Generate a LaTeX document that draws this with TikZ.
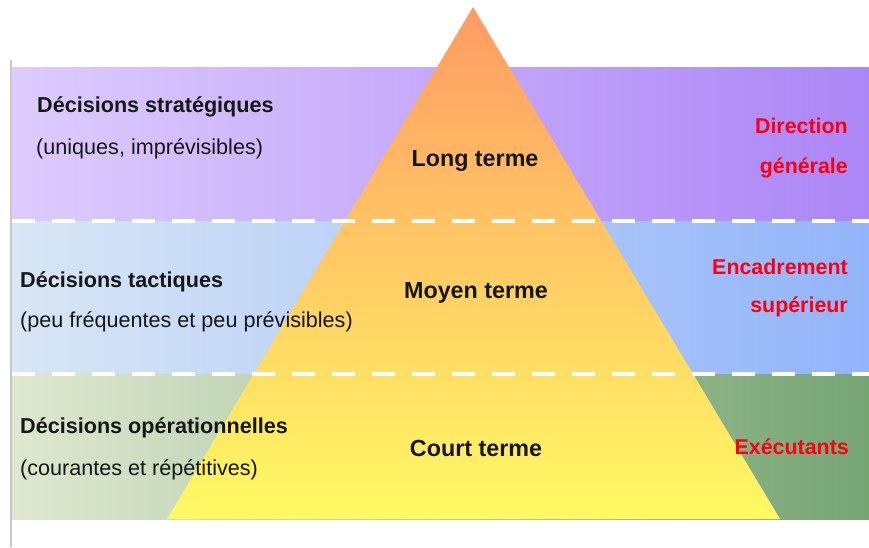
\documentclass[tikz,border=0pt]{standalone}
\usepackage{fontspec}
\setmainfont{Liberation Sans}
\definecolor{stratL}{RGB}{221,204,253}
\definecolor{stratR}{RGB}{172,134,246}
\definecolor{tactL}{RGB}{216,230,245}
\definecolor{tactR}{RGB}{146,180,250}
\definecolor{operL}{RGB}{222,232,208}
\definecolor{operR}{RGB}{118,165,116}
\definecolor{pyrTop}{RGB}{255,155,100}
\definecolor{pyrMid}{RGB}{255,218,92}
\definecolor{pyrBot}{RGB}{255,250,100}
\definecolor{inkblack}{RGB}{22,22,22}
\definecolor{rolered}{RGB}{250,0,16}
\begin{document}
\begin{tikzpicture}[x=1pt,y=-1pt,
  lefttitle/.style={anchor=base west,inner sep=0pt,font=\fontsize{21.6}{25}\selectfont\bfseries,text=inkblack},
  leftnote/.style={anchor=base west,inner sep=0pt,font=\fontsize{21.6}{25}\selectfont,text=inkblack},
  levellabel/.style={anchor=base,inner sep=0pt,font=\fontsize{23.3}{27}\selectfont\bfseries,text=inkblack},
  rolelabel/.style={anchor=base east,inner sep=0pt,font=\fontsize{21.4}{25}\selectfont\bfseries,text=rolered},
  separator/.style={white,line width=4pt,dash pattern=on 23pt off 17pt}]
\useasboundingbox (0,0) rectangle (869,547);
\fill[white] (0,0) rectangle (869,547);

% left margin rule
\draw[black!22,line width=1.5pt] (11,60) -- (11,547);

% horizontal bands
\shade[left color=stratL,right color=stratR] (12,67) rectangle (869,221);
\shade[left color=tactL,right color=tactR] (12,221) rectangle (869,374);
\shade[left color=operL,right color=operR] (12,374) rectangle (869,519);

% pyramid
\coordinate (apex) at (473,7);
\coordinate (baseR) at (780,519);
\coordinate (baseL) at (167,519);
\shade[top color=pyrTop,middle color=pyrMid,bottom color=pyrBot] (apex) -- (baseR) -- (baseL) -- cycle;

% dashed separators
\draw[separator] (12,221) -- (869,221);
\draw[separator] (12,374) -- (869,374);

% strategic level
\node[lefttitle] (stratT) at (37,112) {Décisions stratégiques};
\node[leftnote] (stratN) at (36,154) {(uniques, imprévisibles)};
\node[levellabel] (long) at (475,166) {Long terme};
\node[rolelabel] (dir1) at (848,133) {Direction};
\node[rolelabel] (dir2) at (848,173) {générale};

% tactical level
\node[lefttitle] (tactT) at (20,287) {Décisions tactiques};
\node[leftnote] (tactN) at (20,327) {(peu fréquentes et peu prévisibles)};
\node[levellabel] (mid) at (476,298) {Moyen terme};
\node[rolelabel] (enc1) at (848,274) {Encadrement};
\node[rolelabel] (enc2) at (848,312) {supérieur};

% operational level
\node[lefttitle] (operT) at (20,433) {Décisions opérationnelles};
\node[leftnote] (operN) at (20,475) {(courantes et répétitives)};
\node[levellabel] (short) at (476,456) {Court terme};
\node[rolelabel] (exec) at (849,454) {Exécutants};
\end{tikzpicture}
\end{document}
